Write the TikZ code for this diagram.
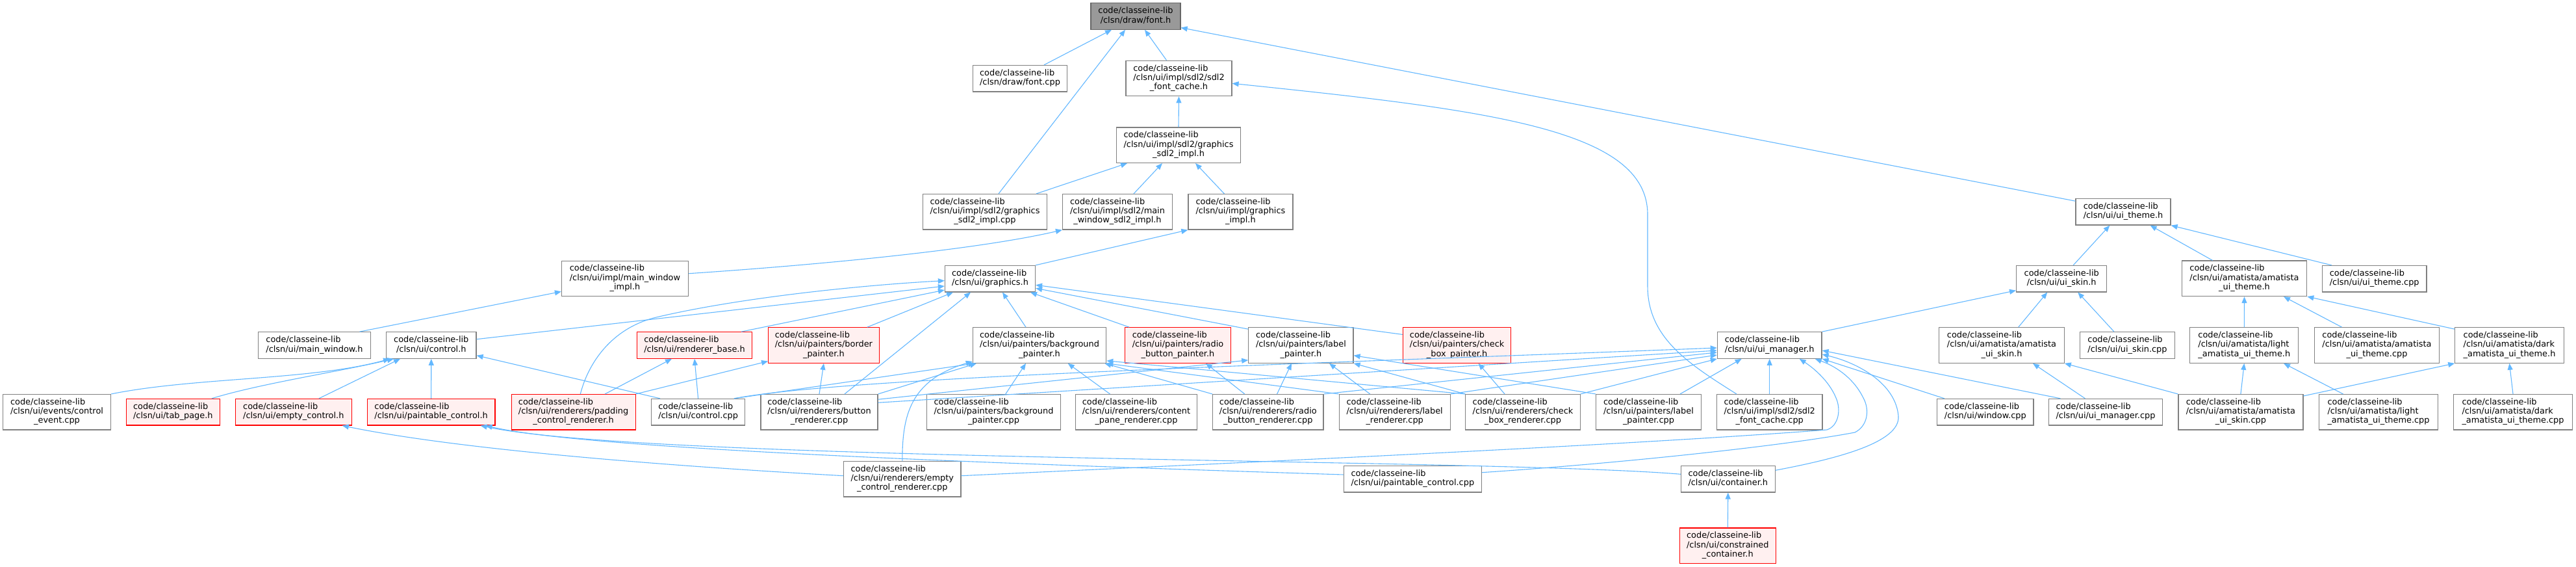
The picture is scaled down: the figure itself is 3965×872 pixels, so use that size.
\documentclass[tikz,border=0pt]{standalone}
\usepackage{fontspec}
\setmainfont{DejaVu Sans}
\usetikzlibrary{arrows.meta}
\definecolor{edgeblue}{HTML}{63B8FF}
\definecolor{nodeborder}{HTML}{808080}
\definecolor{rootfill}{HTML}{999999}
\definecolor{rootborder}{HTML}{666666}
\definecolor{trunfill}{HTML}{FFF0F0}
\newcommand{\twol}[2]{\begin{tabular}{@{}l@{}}#1\\\multicolumn{1}{@{}c@{}}{#2}\end{tabular}}
\newcommand{\threel}[3]{\begin{tabular}{@{}l@{}}#1\\#2\\\multicolumn{1}{@{}c@{}}{#3}\end{tabular}}
\newcommand{\cl}{code/classeine-lib}
\begin{document}
\begin{tikzpicture}[x=1pt,y=-1pt,
  font=\fontsize{12.9}{14.3}\selectfont,
  box/.style={draw=nodeborder, fill=white, line width=1.2pt, inner sep=0pt, minimum height=40.5pt},
  tall/.style={minimum height=54.5pt},
  trunc/.style={draw=red, fill=trunfill},
  root/.style={draw=rootborder, fill=rootfill},
  edg/.style={draw=edgeblue, line width=1.1pt, -{Triangle[length=10pt,width=8pt]}}]
\fill[white] (0,0) rectangle (3965,872);
\useasboundingbox (0,0) rectangle (3965,872);
% row 0-4
\node[box,root,minimum width=138pt] (fonth) at (1748,25) {\twol{\cl}{/clsn/draw/font.h}};
\node[box,minimum width=145pt] (fontcpp) at (1570,120.7) {\twol{\cl}{/clsn/draw/font.cpp}};
\node[box,tall,minimum width=163pt] (fontcacheh) at (1814.5,120.5) {\threel{\cl}{/clsn/ui/impl/sdl2/sdl2}{\_font\_cache.h}};
\node[box,tall,minimum width=191pt] (gsdl2h) at (1814,223.2) {\threel{\cl}{/clsn/ui/impl/sdl2/graphics}{\_sdl2\_impl.h}};
\node[box,tall,minimum width=191pt] (gsdl2cpp) at (1516,325.8) {\threel{\cl}{/clsn/ui/impl/sdl2/graphics}{\_sdl2\_impl.cpp}};
\node[box,tall,minimum width=169pt] (mwsdl2h) at (1720,325.8) {\threel{\cl}{/clsn/ui/impl/sdl2/main}{\_window\_sdl2\_impl.h}};
\node[box,tall,minimum width=161pt] (gimplh) at (1909.4,325.8) {\threel{\cl}{/clsn/ui/impl/graphics}{\_impl.h}};
\node[box,minimum width=139pt] (graphicsh) at (1524,428.7) {\twol{\cl}{/clsn/ui/graphics.h}};
\node[box,tall,minimum width=195pt] (mwimplh) at (962,428.4) {\threel{\cl}{/clsn/ui/impl/main\_window}{\_impl.h}};
\node[box,minimum width=146pt] (uithemeh) at (3268,325.8) {\twol{\cl}{/clsn/ui/ui\_theme.h}};
\node[box,minimum width=139.3pt] (uiskinh) at (3173.2,428.7) {\twol{\cl}{/clsn/ui/ui\_skin.h}};
\node[box,tall,minimum width=192.4pt] (amatistauithemeh) at (3454.5,428.3) {\threel{\cl}{/clsn/ui/amatista/amatista}{\_ui\_theme.h}};
\node[box,minimum width=160.7pt] (uithemecpp) at (3654.7,428.7) {\twol{\cl}{/clsn/ui/ui\_theme.cpp}};
% row 5
\node[box,minimum width=173pt] (mainwindowh) at (484,531) {\twol{\cl}{/clsn/ui/main\_window.h}};
\node[box,minimum width=138.4pt] (controlh) at (663.8,531) {\twol{\cl}{/clsn/ui/control.h}};
\node[box,trunc,minimum width=177pt] (rendererbase) at (1069,531) {\twol{\cl}{/clsn/ui/renderer\_base.h}};
\node[box,tall,trunc,minimum width=170.5pt] (borderpainter) at (1267.9,531) {\threel{\cl}{/clsn/ui/painters/border}{\_painter.h}};
\node[box,tall,minimum width=205.4pt] (bgpainterh) at (1600,531) {\threel{\cl}{/clsn/ui/painters/background}{\_painter.h}};
\node[box,tall,trunc,minimum width=163pt] (radiopainterh) at (1813,531) {\threel{\cl}{/clsn/ui/painters/radio}{\_button\_painter.h}};
\node[box,tall,minimum width=161.2pt] (labelpainterh) at (2002.4,531) {\threel{\cl}{/clsn/ui/painters/label}{\_painter.h}};
\node[box,tall,trunc,minimum width=166.5pt] (checkboxpainterh) at (2242.6,531) {\threel{\cl}{/clsn/ui/painters/check}{\_box\_painter.h}};
\node[box,minimum width=160.7pt] (uimanagerh) at (2723.7,531) {\twol{\cl}{/clsn/ui/ui\_manager.h}};
\node[box,tall,minimum width=192.4pt] (amatistaskinh) at (3081,531) {\threel{\cl}{/clsn/ui/amatista/amatista}{\_ui\_skin.h}};
\node[box,minimum width=145.3pt] (uiskincpp) at (3274.5,531) {\twol{\cl}{/clsn/ui/ui\_skin.cpp}};
\node[box,tall,minimum width=167pt] (lightthemeh) at (3454.3,531) {\threel{\cl}{/clsn/ui/amatista/light}{\_amatista\_ui\_theme.h}};
\node[box,tall,minimum width=192.4pt] (amatistauithemecpp) at (3658.5,531) {\threel{\cl}{/clsn/ui/amatista/amatista}{\_ui\_theme.cpp}};
\node[box,tall,minimum width=167.4pt] (darkthemeh) at (3862.5,531) {\threel{\cl}{/clsn/ui/amatista/dark}{\_amatista\_ui\_theme.h}};
% row 6
\node[box,tall,minimum width=166pt] (controlevent) at (87.5,633.8) {\threel{\cl}{/clsn/ui/events/control}{\_event.cpp}};
\node[box,trunc,minimum width=144pt] (tabpage) at (266.3,633.7) {\twol{\cl}{/clsn/ui/tab\_page.h}};
\node[box,trunc,minimum width=178.6pt] (emptycontrolh) at (451.8,633.7) {\twol{\cl}{/clsn/ui/empty\_control.h}};
\node[box,trunc,minimum width=196.8pt] (paintablecontrolh) at (663.6,633.7) {\twol{\cl}{/clsn/ui/paintable\_control.h}};
\node[box,tall,trunc,minimum width=191pt] (paddingrenderer) at (882.6,633.8) {\threel{\cl}{/clsn/ui/renderers/padding}{\_control\_renderer.h}};
\node[box,minimum width=143.7pt] (controlcpp) at (1074.6,633.7) {\twol{\cl}{/clsn/ui/control.cpp}};
\node[box,tall,minimum width=180pt] (buttonrenderer) at (1261,633.8) {\threel{\cl}{/clsn/ui/renderers/button}{\_renderer.cpp}};
\node[box,tall,minimum width=205.3pt] (bgpaintercpp) at (1529.5,633.8) {\threel{\cl}{/clsn/ui/painters/background}{\_painter.cpp}};
\node[box,tall,minimum width=186.6pt] (contentpane) at (1749,633.8) {\threel{\cl}{/clsn/ui/renderers/content}{\_pane\_renderer.cpp}};
\node[box,tall,minimum width=170.5pt] (radiorenderer) at (1951.8,633.8) {\threel{\cl}{/clsn/ui/renderers/radio}{\_button\_renderer.cpp}};
\node[box,tall,minimum width=171pt] (labelrenderer) at (2146.7,633.8) {\threel{\cl}{/clsn/ui/renderers/label}{\_renderer.cpp}};
\node[box,tall,minimum width=176.3pt] (checkboxrenderer) at (2344,633.8) {\threel{\cl}{/clsn/ui/renderers/check}{\_box\_renderer.cpp}};
\node[box,tall,minimum width=161.6pt] (labelpaintercpp) at (2537.5,633.8) {\threel{\cl}{/clsn/ui/painters/label}{\_painter.cpp}};
\node[box,tall,minimum width=162.5pt] (fontcachecpp) at (2723.7,633.8) {\threel{\cl}{/clsn/ui/impl/sdl2/sdl2}{\_font\_cache.cpp}};
\node[box,minimum width=148.2pt] (windowcpp) at (3055.8,633.7) {\twol{\cl}{/clsn/ui/window.cpp}};
\node[box,minimum width=175.3pt] (uimanagercpp) at (3241,633.7) {\twol{\cl}{/clsn/ui/ui\_manager.cpp}};
\node[box,tall,minimum width=192pt] (amatistaskincpp) at (3448.9,633.8) {\threel{\cl}{/clsn/ui/amatista/amatista}{\_ui\_skin.cpp}};
\node[box,tall,minimum width=183pt] (lightthemecpp) at (3661,633.8) {\threel{\cl}{/clsn/ui/amatista/light}{\_amatista\_ui\_theme.cpp}};
\node[box,tall,minimum width=183pt] (darkthemecpp) at (3868,633.8) {\threel{\cl}{/clsn/ui/amatista/dark}{\_amatista\_ui\_theme.cpp}};
% row 7-8
\node[box,tall,minimum width=180.4pt] (ecr) at (1388.8,736.7) {\threel{\cl}{/clsn/ui/renderers/empty}{\_control\_renderer.cpp}};
\node[box,minimum width=212pt] (pccpp) at (2174.3,736.7) {\twol{\cl}{/clsn/ui/paintable\_control.cpp}};
\node[box,minimum width=144.6pt] (containerh) at (2659.8,736.7) {\twol{\cl}{/clsn/ui/container.h}};
\node[box,tall,trunc,minimum width=148.3pt] (constrained) at (2659.3,839.2) {\threel{\cl}{/clsn/ui/constrained}{\_container.h}};

% edges to font.h
\draw[edg] ([xshift=37pt]fontcpp.north) -- ([xshift=-37pt]fonth.south);
\draw[edg] ([xshift=21pt]gsdl2cpp.north) -- ([xshift=-16pt]fonth.south);
\draw[edg] ([xshift=-19pt]fontcacheh.north) -- ([xshift=14pt]fonth.south);
\draw[edg] ([yshift=-4.3pt]uithemeh.north west) -- ([yshift=3.3pt]fonth.south east);
% font cache
\draw[edg] (gsdl2h.north) -- (fontcacheh.south);
\draw[edg] ([xshift=31pt]fontcachecpp.north west) .. controls (2600,560) and (2536,520) .. (2536,440) -- (2536,330) .. controls (2536,200) and (2300,170) .. ([yshift=-7.8pt]fontcacheh.east);
% graphics sdl2 impl
\draw[edg] ([xshift=79pt]gsdl2cpp.north) -- ([xshift=-79pt]gsdl2h.south);
\draw[edg] ([xshift=25pt]mwsdl2h.north) -- ([xshift=-25pt]gsdl2h.south);
\draw[edg] ([xshift=-25pt]gimplh.north) -- ([xshift=26pt]gsdl2h.south);
\draw[edg] ([yshift=7.7pt]mwimplh.east) .. controls (1250,408) and (1500,385) .. (mwsdl2h.south west);
\draw[edg] (graphicsh.north east) -- (gimplh.south west);
\draw[edg] ([xshift=69.5pt]mainwindowh.north) -- ([yshift=-20pt]mwimplh.west);
% graphics.h
\draw[edg] ([xshift=10.7pt]paddingrenderer.north) .. controls (905,560) and (940,505) .. (1010,488) .. controls (1150,455) and (1350,437) .. ([yshift=-3pt]graphicsh.west);
\draw[edg] ([yshift=9.3pt]controlh.east) -- ([yshift=-11.3pt]graphicsh.west);
\draw[edg] ([xshift=72pt]rendererbase.north) -- ([yshift=-17.3pt]graphicsh.west);
\draw[edg] ([xshift=67pt]borderpainter.north) -- ([xshift=-57pt]graphicsh.south);
\draw[edg] ([xshift=39pt]buttonrenderer.north) -- ([xshift=-30pt]graphicsh.south);
\draw[edg] ([xshift=-21pt]bgpainterh.north) -- ([xshift=19pt]graphicsh.south);
\draw[edg] ([xshift=-75pt]radiopainterh.north) -- ([xshift=62pt]graphicsh.south);
\draw[edg] ([yshift=-3pt]labelpainterh.north west) -- ([yshift=-14.6pt]graphicsh.east);
\draw[edg] ([yshift=-11.3pt]checkboxpainterh.north west) -- ([yshift=-9.6pt]graphicsh.east);
% control.h
\draw[edg] (controlevent.north east) .. controls (300,580) and (480,585) .. ([xshift=6pt]controlh.south west);
\draw[edg] ([xshift=59.6pt]tabpage.north) .. controls (400,590) and (520,572) .. ([xshift=12pt]controlh.south west);
\draw[edg] ([xshift=39pt]emptycontrolh.north) -- ([xshift=22pt]controlh.south west);
\draw[edg] (paintablecontrolh.north) -- (controlh.south);
\draw[edg] ([xshift=-58.6pt]controlcpp.north) -- ([yshift=-15.7pt]controlh.east);
% renderer_base, border_painter
\draw[edg] ([xshift=48.6pt]paddingrenderer.north) -- ([xshift=-35pt]rendererbase.south);
\draw[edg] (controlcpp.north) -- (rendererbase.south);
\draw[edg] (paddingrenderer.north east) -- ([yshift=3.3pt]borderpainter.south west);
\draw[edg] (buttonrenderer.north) -- (borderpainter.south);
% background painter
\draw[edg] ([xshift=55.3pt]controlcpp.north) -- ([xshift=4pt]bgpainterh.south west);
\draw[edg] (buttonrenderer.north east) -- ([xshift=-97pt]bgpainterh.south);
\draw[edg] (ecr.north) .. controls (1388.8,640) and (1400,585) .. ([yshift=3pt]bgpainterh.south west);
\draw[edg] ([xshift=18.3pt]bgpaintercpp.north) -- ([xshift=-21pt]bgpainterh.south);
\draw[edg] ([xshift=-40.5pt]contentpane.north) -- ([xshift=43.7pt]bgpainterh.south);
\draw[edg] (radiorenderer.north west) -- ([xshift=-3pt]bgpainterh.south east);
\draw[edg] (labelrenderer.north west) -- (bgpainterh.south east);
\draw[edg] (checkboxrenderer.north west) -- ([yshift=4pt]bgpainterh.south east);
% radio, label, check box painters
\draw[edg] ([xshift=-36pt]radiorenderer.north) -- ([xshift=43pt]radiopainterh.south);
\draw[edg] ([yshift=-8.3pt]buttonrenderer.north east) -- ([yshift=5pt]labelpainterh.south west);
\draw[edg] ([xshift=13.8pt]radiorenderer.north) -- ([xshift=-14.4pt]labelpainterh.south);
\draw[edg] ([xshift=-38pt]labelrenderer.north) -- ([xshift=43.6pt]labelpainterh.south);
\draw[edg] (checkboxrenderer.north west) -- (labelpainterh.south east);
\draw[edg] (labelpaintercpp.north west) -- ([yshift=-15.7pt]labelpainterh.east);
\draw[edg] ([xshift=-28pt]checkboxrenderer.north) -- ([xshift=33pt]checkboxpainterh.south);
% ui_manager.h
\draw[edg] ([yshift=-13.3pt]buttonrenderer.north east) -- ([yshift=-8pt]uimanagerh.west);
\draw[edg] ([xshift=55.3pt]controlcpp.north) .. controls (1300,580) and (2000,560) .. ([yshift=-4pt]uimanagerh.west);
\draw[edg] (radiorenderer.north east) -- ([yshift=-11pt]uimanagerh.west);
\draw[edg] (labelrenderer.north east) -- ([yshift=-15pt]uimanagerh.west);
\draw[edg] (checkboxrenderer.north east) -- (uimanagerh.south west);
\draw[edg] ([xshift=48.5pt]labelpaintercpp.north) -- ([xshift=-43pt]uimanagerh.south);
\draw[edg] (fontcachecpp.north) -- (uimanagerh.south);
\draw[edg] ([yshift=5pt]ecr.east) .. controls (1900,712) and (2500,685) .. (2812,661) .. controls (2830,655) and (2834,630) .. (2826,612) .. controls (2815,585) and (2790,565) .. ([xshift=46pt]uimanagerh.south);
\draw[edg] ([yshift=10pt]pccpp.east) .. controls (2500,712) and (2750,685) .. (2855,665) .. controls (2875,655) and (2878,630) .. (2868,612) .. controls (2855,585) and (2830,565) .. ([xshift=70pt]uimanagerh.south);
\draw[edg] ([yshift=13.4pt]containerh.east) .. controls (2830,705) and (2925,680) .. (2922,640) .. controls (2918,590) and (2860,558) .. ([yshift=-14pt]uimanagerh.east);
\draw[edg] ([xshift=-63pt]windowcpp.north) -- (uimanagerh.south east);
\draw[edg] ([xshift=-69.6pt]uimanagercpp.north) -- ([yshift=-8pt]uimanagerh.east);
\draw[edg] (uimanagerh.north east) -- ([yshift=-18pt]uiskinh.west);
% paintable / empty control
\draw[edg] ([yshift=6.7pt]pccpp.west) .. controls (1500,712) and (900,690) .. ([xshift=84pt]paintablecontrolh.south);
\draw[edg] ([yshift=7.4pt]containerh.west) .. controls (2300,705) and (1000,710) .. ([xshift=76pt]paintablecontrolh.south);
\draw[edg] ([yshift=5pt]ecr.west) .. controls (1000,715) and (700,690) .. ([xshift=75pt]emptycontrolh.south);
\draw[edg] (constrained.north) -- (containerh.south);
% themes and skins
\draw[edg] ([xshift=18pt]uiskinh.north) -- ([xshift=-20.7pt]uithemeh.south);
\draw[edg] ([xshift=-49pt]amatistauithemeh.north) -- ([xshift=41.6pt]uithemeh.south);
\draw[edg] ([xshift=-66pt]uithemecpp.north) -- (uithemeh.south east);
\draw[edg] ([xshift=25.7pt]amatistaskinh.north) -- ([xshift=-22pt]uiskinh.south);
\draw[edg] ([xshift=-20.5pt]uiskincpp.north) -- ([xshift=25pt]uiskinh.south);
\draw[edg] ([xshift=-31.6pt]uimanagercpp.north) -- ([xshift=48pt]amatistaskinh.south);
\draw[edg] (amatistaskincpp.north west) -- (amatistaskinh.south east);
\draw[edg] (lightthemeh.north) -- (amatistauithemeh.south);
\draw[edg] ([xshift=-54pt]amatistauithemecpp.north) -- ([xshift=60.5pt]amatistauithemeh.south);
\draw[edg] ([yshift=-3pt]darkthemeh.north west) -- (amatistauithemeh.south east);
\draw[edg] (amatistaskincpp.north) -- (lightthemeh.south);
\draw[edg] ([xshift=-54.5pt]lightthemecpp.north) -- ([xshift=60.7pt]lightthemeh.south);
\draw[edg] ([yshift=-3pt]amatistaskincpp.north east) -- (darkthemeh.south west);
\draw[edg] (darkthemecpp.north) -- (darkthemeh.south);
\end{tikzpicture}
\end{document}
